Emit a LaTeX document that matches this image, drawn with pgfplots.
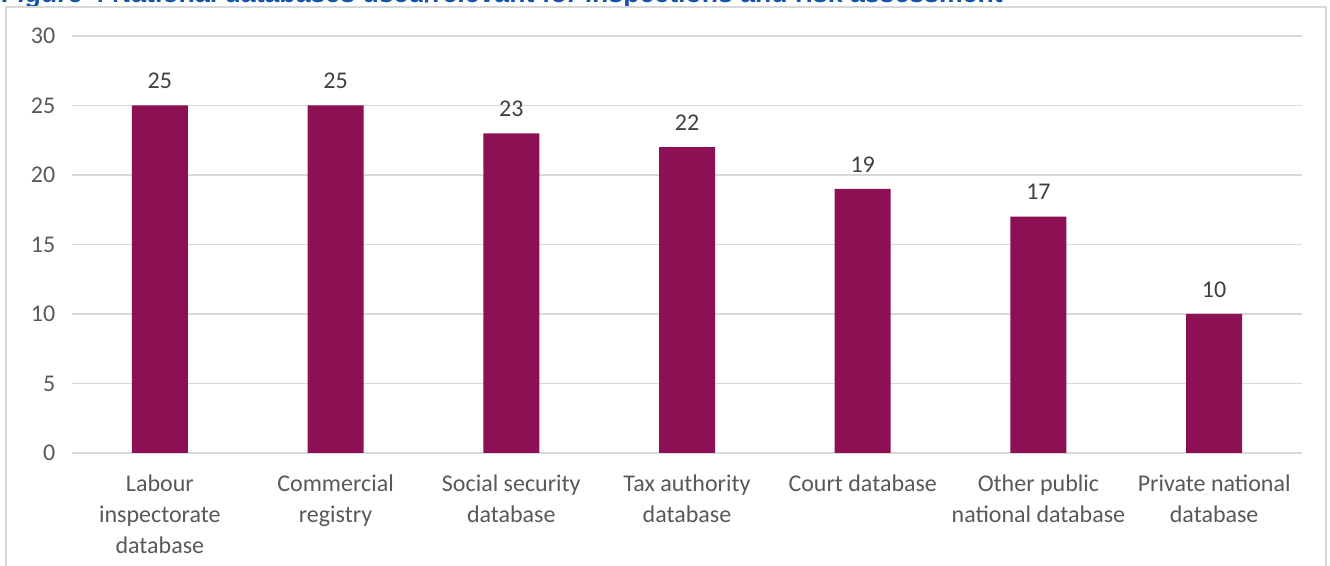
\documentclass[border=0pt]{standalone}
\usepackage{pgfplots}
\pgfplotsset{compat=1.18}
\usepackage{fontspec}
\setmainfont{Carlito}
\newfontfamily\titlefont{Liberation Sans}
\definecolor{barc}{RGB}{140,16,83}
\definecolor{gridc}{RGB}{217,217,217}
\definecolor{tickc}{RGB}{89,89,89}
\definecolor{labc}{RGB}{64,64,64}
\definecolor{titc}{RGB}{20,85,165}
\begin{document}
\begin{tikzpicture}
\useasboundingbox (0,0) rectangle (997.5pt,424.5pt);
\clip (0,0) rectangle (997.5pt,424.5pt);
\fill[white] (0,0) rectangle (997.5pt,424.5pt);
\node[anchor=base west, inner sep=0pt, text=titc, font=\titlefont\bfseries\fontsize{20pt}{24pt}\selectfont] at (0.5pt,422.4pt) {Figure 4 National databases used/relevant for inspections and risk assessment};
\draw[gridc, line width=1pt] (4.5pt,-5pt) -- (4.5pt,419.25pt) -- (994.5pt,419.25pt) -- (994.5pt,-5pt);
\begin{axis}[
  at={(54pt,84.75pt)}, anchor=south west,
  scale only axis, width=922.5pt, height=312.75pt,
  xmin=-0.5, xmax=6.5, ymin=0, ymax=30,
  ytick={0,5,...,30},
  xtick={0,...,6},
  xticklabels={{Labour\\inspectorate\\database},{Commercial\\registry},{Social security\\database},{Tax authority\\database},{Court database},{Other public\\national database},{Private national\\database}},
  axis line style={draw=none},
  major tick length=0pt,
  ymajorgrids, grid style={gridc, line width=1.1pt},
  tick label style={font=\fontsize{18pt}{23.25pt}\selectfont, text=tickc},
  yticklabel style={xshift=-9pt},
  /pgf/number format/assume math mode=true,
  xticklabel style={align=center, anchor=north, yshift=-12.5pt},
  nodes near coords,
  every node near coord/.append style={font=\fontsize{18pt}{22pt}\selectfont, text=labc, yshift=9pt},
  clip=false,
]
\addplot[ybar, bar width=42pt, fill=barc, draw=none] coordinates {(0,25) (1,25) (2,23) (3,22) (4,19) (5,17) (6,10)};
\end{axis}
\end{tikzpicture}
\end{document}
